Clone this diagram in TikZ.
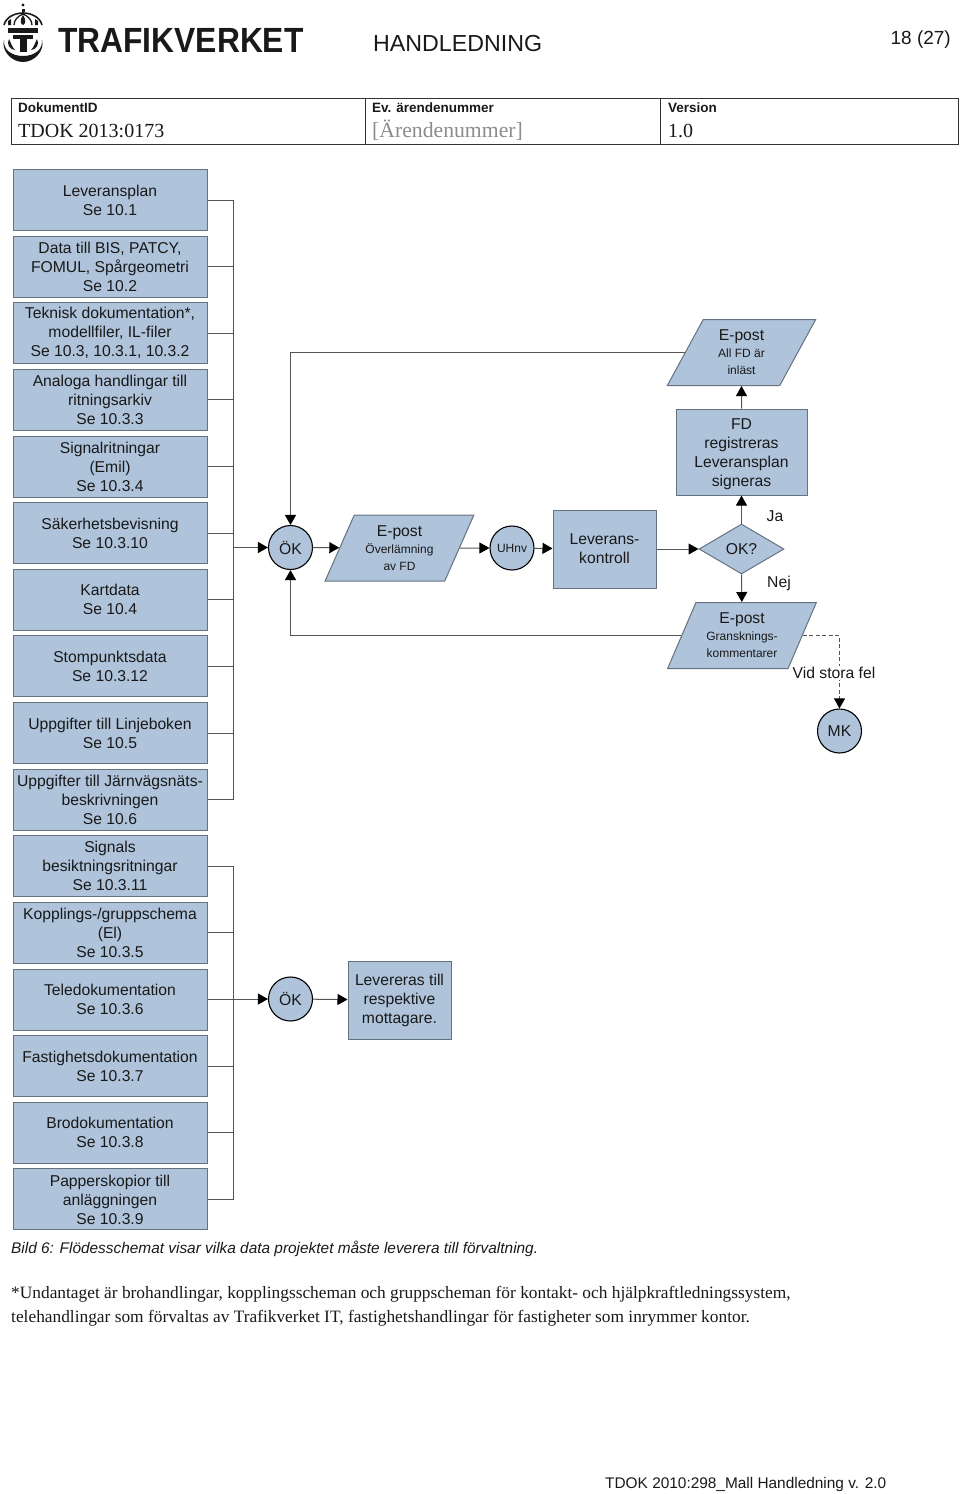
\documentclass[tikz,border=0pt]{standalone}
\usepackage{fontspec}
\setmainfont{Liberation Sans}
\newfontfamily\timesfont{Liberation Serif}
\usetikzlibrary{positioning,arrows.meta,shapes.geometric}
\definecolor{boxblue}{HTML}{AFC3DB}
\definecolor{boxline}{HTML}{66727F}
\definecolor{linkgray}{HTML}{555555}
\newcommand{\smalltxt}[1]{{\fontsize{12}{17}\selectfont #1}}
\begin{document}
\begin{tikzpicture}[x=1pt,y=-1pt,node distance=4.63pt,
                >={Triangle[length=10pt,width=11pt,color=black]},
                every node/.style={text=black!90,font=\fontsize{15.7}{19}\selectfont},
                left box/.style={rectangle,draw=boxline,fill=boxblue,line width=1pt,minimum width=194pt,
                  minimum height=61pt,inner sep=0pt,align=center},
                flow box/.style={rectangle,draw=boxline,fill=boxblue,line width=1pt,inner sep=0pt,align=center},
                round node/.style={circle,draw=black,fill=boxblue,line width=1.1pt,minimum size=44pt,inner sep=0pt},
                para node/.style={trapezium,trapezium left angle=64,trapezium right angle=116,trapezium stretches=true,
                  draw=boxline,fill=boxblue,line width=1pt,minimum width=149pt,minimum height=66pt,inner sep=0pt,align=center,
                  font=\fontsize{15.7}{17}\selectfont},
                link/.style={draw=linkgray,line width=1pt}]

  \useasboundingbox (0,0) rectangle (960,1494);

  % logo
  \fill[black!90] (23,5) circle (1.6);
  \fill[black!90] (21.5,9) rectangle (24.5,12);
  \draw[black!90,line width=1.6pt] (4,25) .. controls (6,17) and (15,13) .. (23,13) .. controls (31,13) and (40,17) .. (42,25);
  \draw[black!90,line width=1.3pt] (14,25) .. controls (14,20) and (18,16) .. (23,14) .. controls (28,16) and (32,20) .. (32,25);
  \fill[black!90] (23,15) .. controls (26,19) and (26,24) .. (23,25) .. controls (20,24) and (20,19) .. (23,15);
  \fill[black!90] (8,21) -- (11,19) -- (11,25) -- (8,25) -- cycle;
  \fill[black!90] (35,19) -- (38,21) -- (38,25) -- (35,25) -- cycle;
  \fill[black!90] (8,28) rectangle (38,33);
  \fill[black!90] (13,35) rectangle (33,39);
  \fill[black!90] (19.5,35) rectangle (26.5,52);
  \fill[black!90] (4,40) .. controls (1,50) and (11,62) .. (23,62) .. controls (35,62) and (45,50) .. (42,40)
    .. controls (43,50) and (34,56) .. (23,56) .. controls (12,56) and (3,50) .. (4,40) -- cycle;
  \fill[black!90] (9,39) .. controls (6,44) and (10,50) .. (15,50) .. controls (12,47) and (11,43) .. (9,39) -- cycle;
  \fill[black!90] (37,39) .. controls (40,44) and (36,50) .. (31,50) .. controls (34,47) and (35,43) .. (37,39) -- cycle;
  \node[anchor=base west,inner sep=0pt,font=\fontsize{35}{35}\selectfont\bfseries] (brand) at (58,52) {\scalebox{0.908}[1]{TRAFIKVERKET}};

  % header
  \node[anchor=base west,inner sep=0pt,font=\fontsize{23.2}{24}\selectfont] (doctype) at (373,51) {HANDLEDNING};
  \node[anchor=base east,inner sep=0pt,font=\fontsize{19}{19}\selectfont] (pageno) at (951,44) {18 (27)};
  \draw[black!80,line width=1pt] (11,98) rectangle (958,144) (365,98) -- (365,144) (660,98) -- (660,144);
  \node[anchor=base west,inner sep=0pt,font=\fontsize{13.5}{14}\selectfont\bfseries] (idhead) at (18,112) {DokumentID};
  \node[anchor=base west,inner sep=0pt,font=\fontsize{13.5}{14}\selectfont\bfseries] (nrhead) at (372,112) {Ev. ärendenummer};
  \node[anchor=base west,inner sep=0pt,font=\fontsize{13.5}{14}\selectfont\bfseries] (verhead) at (668,112) {Version};
  \node[anchor=base west,inner sep=0pt,font=\fontsize{20}{20}\selectfont\timesfont] (idval) at (18,137) {TDOK 2013:0173};
  \node[anchor=base west,inner sep=0pt,font=\fontsize{21.7}{21}\selectfont\timesfont,text=black!45] (nrval) at (372,137) {[Ärendenummer]};
  \node[anchor=base west,inner sep=0pt,font=\fontsize{20}{20}\selectfont\timesfont] (verval) at (668,137) {1.0};

  % left column
  \node[left box] (plan) at (110,200) {Leveransplan\\Se 10.1};
  \node[left box,below=of plan] (bis) {Data till BIS, PATCY,\\FOMUL, Spårgeometri\\Se 10.2};
  \node[left box,below=of bis] (teknisk) {Teknisk dokumentation*,\\modellfiler, IL-filer\\Se 10.3, 10.3.1, 10.3.2};
  \node[left box,below=of teknisk] (analoga) {Analoga handlingar till\\ritningsarkiv\\Se 10.3.3};
  \node[left box,below=of analoga] (signal) {Signalritningar\\(Emil)\\Se 10.3.4};
  \node[left box,below=of signal] (saker) {Säkerhetsbevisning\\Se 10.3.10};
  \node[left box,below=of saker] (kart) {Kartdata\\Se 10.4};
  \node[left box,below=of kart] (stom) {Stompunktsdata\\Se 10.3.12};
  \node[left box,below=of stom] (linje) {Uppgifter till Linjeboken\\Se 10.5};
  \node[left box,below=of linje] (jarnvag) {Uppgifter till Järnvägsnäts-\\beskrivningen\\Se 10.6};
  \node[left box,below=of jarnvag] (besikt) {Signals\\besiktningsritningar\\Se 10.3.11};
  \node[left box,below=of besikt] (koppling) {Kopplings-/gruppschema\\(El)\\Se 10.3.5};
  \node[left box,below=of koppling] (tele) {Teledokumentation\\Se 10.3.6};
  \node[left box,below=of tele] (fastighet) {Fastighetsdokumentation\\Se 10.3.7};
  \node[left box,below=of fastighet] (bro) {Brodokumentation\\Se 10.3.8};
  \node[left box,below=of bro] (papper) {Papperskopior till\\anläggningen\\Se 10.3.9};

  % flow
  \coordinate (busa) at (233,547.5);
  \node[round node] (ok) at (290.5,547.5) {ÖK};
  \node[para node] (overlamning) at (399.5,548) {E-post\\\smalltxt{Överlämning}\\\smalltxt{av FD}};
  \node[round node] (uhnv) at (512,548) {\smalltxt{UHnv}};
  \node[flow box,minimum width=103pt,minimum height=78pt] (kontroll) at (604.5,549) {Leverans-\\kontroll};
  \node[diamond,draw=boxline,fill=boxblue,line width=1pt,minimum width=85pt,minimum height=50pt,inner sep=0pt] (okq) at (741.5,549) {OK?};
  \node[flow box,minimum width=131pt,minimum height=86pt] (fd) at (741.5,452) {\rule{0pt}{15pt}FD\\registreras\\Leveransplan\\signeras};
  \node[para node] (inlast) at (741.5,352.5) {E-post\\\smalltxt{All FD är}\\\smalltxt{inläst}};
  \node[para node] (gransk) at (742,635.5) {E-post\\\smalltxt{Gransknings-}\\\smalltxt{kommentarer}};
  \node[round node] (mk) at (839.5,731) {MK};

  \coordinate (busb) at (233,999);
  \node[round node] (ok2) at (290.5,999) {ÖK};
  \node[flow box,minimum width=103pt,minimum height=78pt] (levereras) at (399.5,1000) {Levereras till\\respektive\\mottagare.};

  \path[link]
    (plan.east) -| (busa)
    (bis.east) -| (busa)
    (teknisk.east) -| (busa)
    (analoga.east) -| (busa)
    (signal.east) -| (busa)
    (saker.east) -| (busa)
    (kart.east) -| (busa)
    (stom.east) -| (busa)
    (linje.east) -| (busa)
    (jarnvag.east) -| (busa)
    (besikt.east) -| (busb)
    (koppling.east) -| (busb)
    (tele.east) -| (busb)
    (fastighet.east) -| (busb)
    (bro.east) -| (busb)
    (papper.east) -| (busb);

  \draw[link,->] (busa) -- (ok);
  \draw[link,->] (ok) -- (overlamning);
  \draw[link,->] (overlamning) -- (uhnv);
  \draw[link,->] (uhnv) -- (kontroll);
  \draw[link,->] (kontroll) -- (okq);
  \draw[link,->] (okq) -- (fd);
  \draw[link,->] (fd) -- (inlast);
  \draw[link,->] (okq) -- (gransk);
  \draw[link,->] (inlast.west) -| (ok.north);
  \draw[link,->] (gransk.west) -| (ok.south);
  \draw[link,->,dash pattern=on 4pt off 2.5pt] (gransk.east) -| (mk.north);
  \draw[link,->] (busb) -- (ok2);
  \draw[link,->] (ok2) -- (levereras);

  \node (ja) at (775,516) {Ja};
  \node (nej) at (779,583) {Nej};
  \node[fill=white,inner sep=1pt] (storafel) at (834,673) {Vid stora fel};

  % text below
  \node[anchor=base west,inner sep=0pt,font=\fontsize{15.4}{15}\selectfont\itshape] (bild) at (11,1253) {Bild 6: Flödesschemat visar vilka data projektet måste leverera till förvaltning.};
  \node[anchor=base west,inner sep=0pt,font=\fontsize{17.35}{17}\selectfont\timesfont] (not1) at (11,1298) {*Undantaget är brohandlingar, kopplingsscheman och gruppscheman för kontakt- och hjälpkraftledningssystem,};
  \node[anchor=base west,inner sep=0pt,font=\fontsize{17.35}{17}\selectfont\timesfont] (not2) at (11,1322) {telehandlingar som förvaltas av Trafikverket IT, fastighetshandlingar för fastigheter som inrymmer kontor.};
  \node[anchor=base west,inner sep=0pt,font=\fontsize{15.4}{16}\selectfont] (mall) at (605,1488) {TDOK 2010:298\_Mall Handledning v. 2.0};
\end{tikzpicture}
\end{document}
